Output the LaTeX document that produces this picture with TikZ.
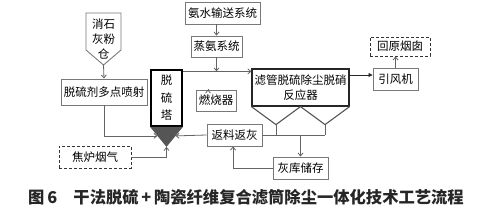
\documentclass[tikz,border=0pt]{standalone}
\usepackage{fontspec}
\setmainfont{Noto Sans CJK SC}
\usetikzlibrary{arrows.meta,positioning,calc}
\definecolor{wire}{RGB}{100,100,100}
\definecolor{edge}{RGB}{120,120,120}
\definecolor{hopper}{RGB}{85,85,85}

\begin{document}
\begin{tikzpicture}[
  x=1pt, y=-1pt,
  box/.style={draw=edge, line width=0.9pt, inner sep=0pt, align=center, font=\fontsize{11.5}{15}\selectfont},
  wh/.style 2 args={minimum width=#1pt, minimum height=#2pt},
  dbox/.style={box, draw=black!80, dashed, dash pattern=on 3pt off 2pt},
  wire/.style={draw=wire, line width=0.8pt},
  arr/.style={wire, -{Straight Barb[length=3pt,width=5pt]}},
]
  \useasboundingbox (0,0) rectangle (490,217);

  % lime silo
  \draw[box] (86,13) -- (121,13) -- (121,50) -- (103.5,65) -- (86,50) -- cycle;
  \node[align=center, font=\fontsize{11.5}{15}\selectfont] (silo) at (103.5,39) {消石\\灰粉\\仓};
  \coordinate (silotip) at (103.5,65);

  % boxes
  \node[box, wh={75}{22}] (ammonia) at (222.5,13) {氨水输送系统};
  \node[box, wh={51}{21}] (steam) at (216.5,46.5) {蒸氨系统};
  \node[box, wh={86}{26}] (jet) at (104,92) {脱硫剂多点喷射};
  \node[box, draw=black, line width=1.8pt, wh={31}{56}, font=\fontsize{11.5}{17.5}\selectfont] (tower) at (166.5,98) {脱\\硫\\塔};
  \node[box, wh={40}{21}] (burner) at (216,100.5) {燃烧器};
  \node[box, wh={55}{22}] (ret) at (234.5,135) {返料返灰};
  \node[dbox, wh={72}{22}] (gas) at (95,157) {焦炉烟气};
  \node[box, draw=black!85, line width=1.2pt, wh={97}{37}] (reactor) at (300.5,87.5) {滤管脱硫除尘脱硝\\反应器};
  \node[box, wh={45}{22}] (fan) at (395.5,79) {引风机};
  \node[dbox, wh={60}{19}] (stack) at (400,46.5) {回原烟囱};
  \node[box, wh={55}{22}] (ash) at (300.5,168) {灰库储存};

  % tower cone and reactor hoppers
  \coordinate (conetip) at ($(tower.south)+(0,20)$);
  \fill[hopper] (tower.south west) -- (tower.south east) -- (conetip) -- cycle;
  \coordinate (coneL) at ($(tower.south west)!0.45!(conetip)$);
  \coordinate (coneR) at ($(tower.south east)!0.45!(conetip)$);
  \coordinate (h1) at ($(reactor.south west)!0.5!(reactor.south)+(0,18)$);
  \coordinate (h2) at ($(reactor.south)!0.5!(reactor.south east)+(0,18)$);
  \draw[draw=hopper, line width=1.1pt] (reactor.south west) -- (h1) -- (reactor.south) -- (h2) -- (reactor.south east);

  % connectors
  \draw[arr] (silotip) -- (jet.north);
  \draw[arr] (jet.south) |- (coneL);
  \draw[arr] (gas.east) -| (conetip);
  \draw[arr] (ret.west) -- (coneR);
  \coordinate (mainin) at ($(reactor.north west)+(0,3)$);
  \draw[arr] (tower.east |- mainin) -- (mainin);
  \draw[arr] (ammonia.south -| steam.north) -- (steam.north);
  \draw[arr] (steam.south) -- (steam.south |- mainin);
  \draw[arr] ($(burner.north)+(-8,0)$) -- ($(burner.north)+(-8,0)$ |- mainin);
  \draw[wire] (h1) -- (h1 |- ret.east);
  \draw[wire] (h2) -- (h2 |- ret.east);
  \draw[wire] (ret.east) -- (ret.east -| h2);
  \draw[arr] (ret.east -| reactor.south) -- (ash.north);
  \draw[arr] (ash.west) -| ($(ret.south)+(-1.5,0)$);
  \coordinate (fanin) at ($(fan.west)+(0,-4)$);
  \draw[draw=black!85, line width=0.8pt, -{Triangle[length=4pt,width=4pt]}] (reactor.east |- fanin) -- (fanin);
  \draw[arr] (fan.north) -- (fan.north |- stack.south);

  % caption
  \node[font=\fontsize{16.3}{18}\selectfont\bfseries, text=black!85] (caption) at (246,197) {图\,6\quad 干法脱硫\,+\,陶瓷纤维复合滤筒除尘一体化技术工艺流程};
\end{tikzpicture}
\end{document}
